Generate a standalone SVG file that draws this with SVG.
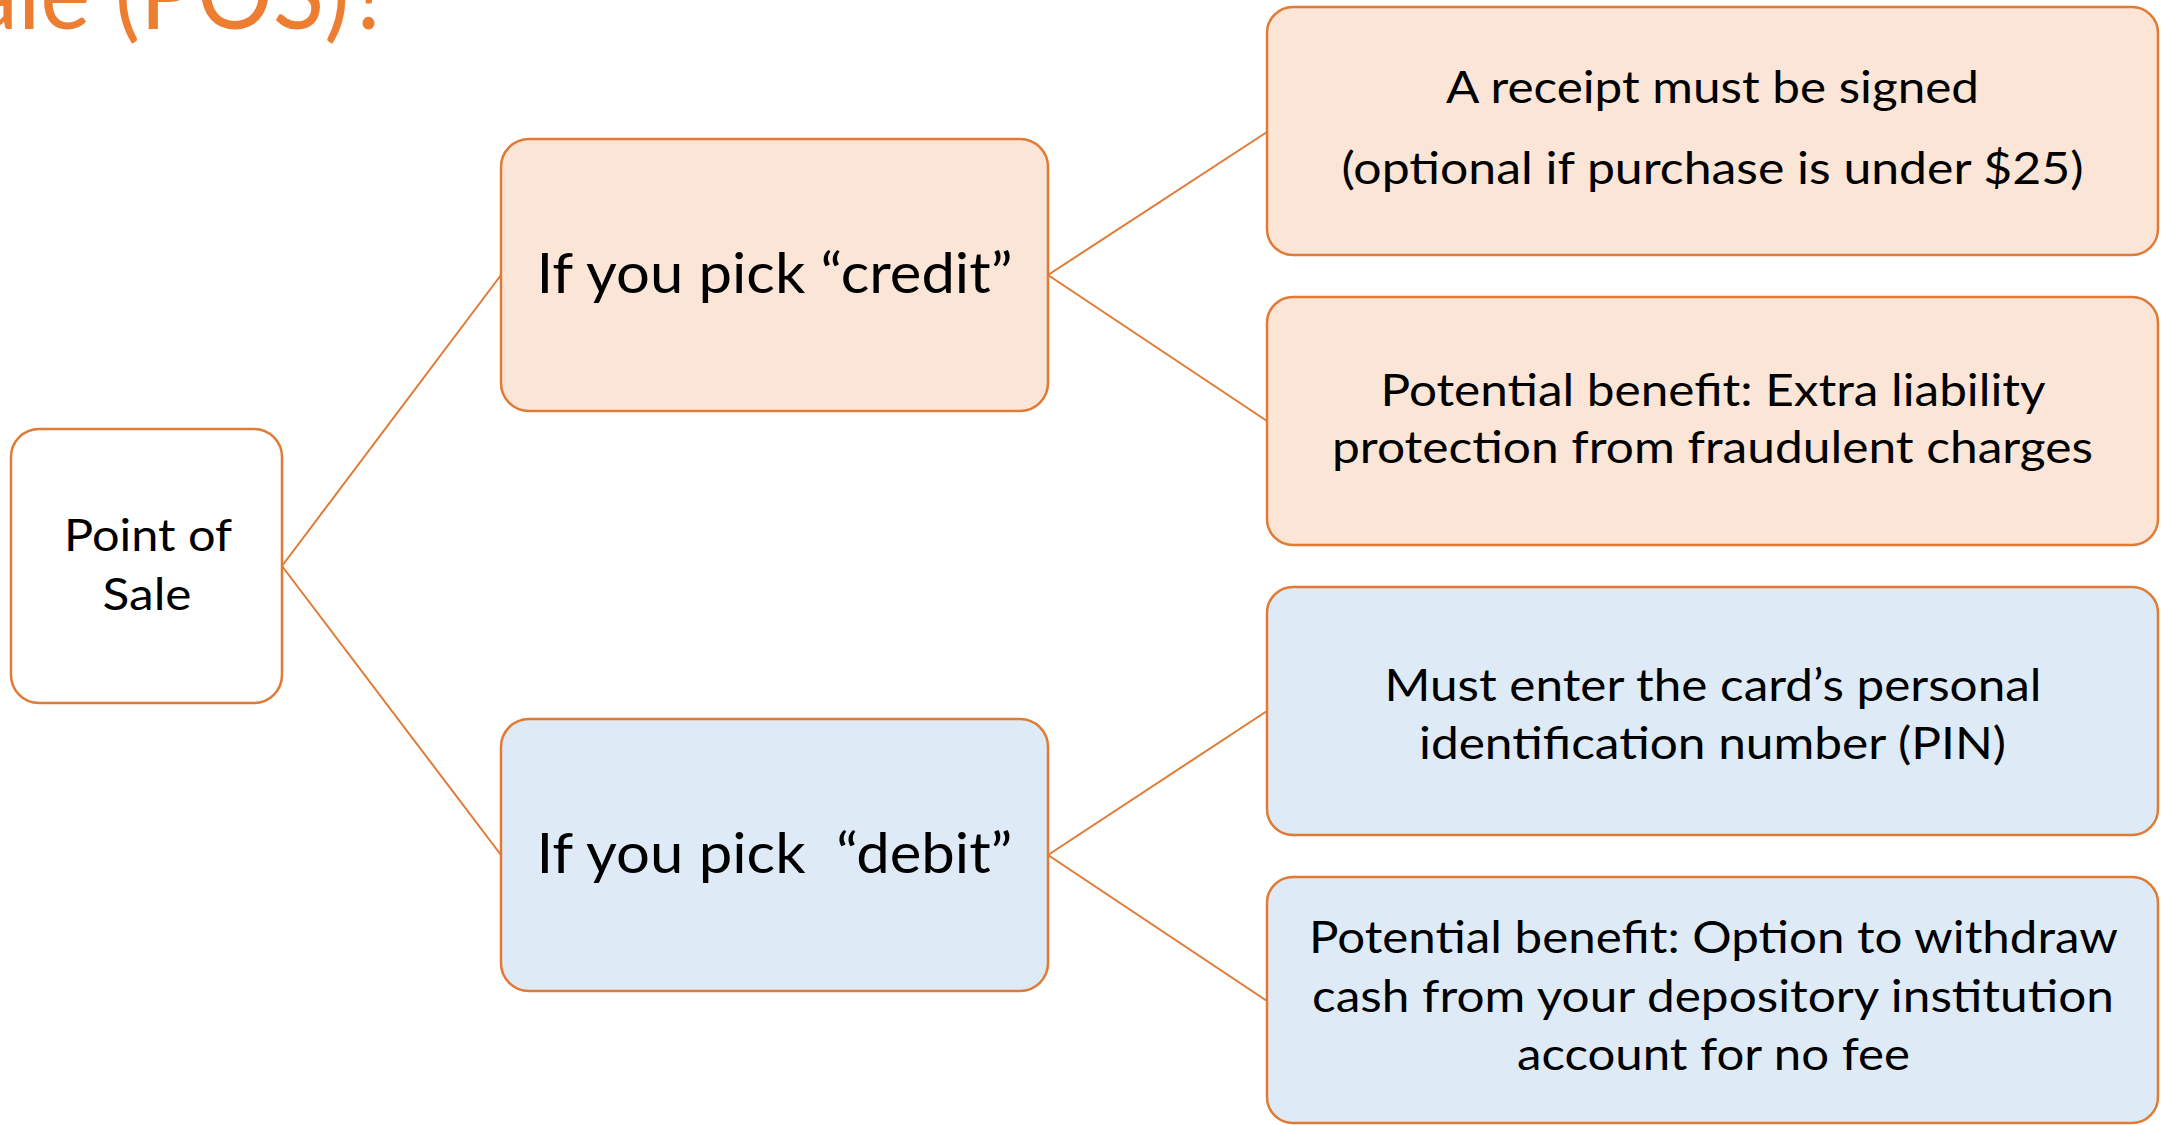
<svg xmlns="http://www.w3.org/2000/svg" width="2165" height="1125" viewBox="0 0 2165 1125">
  <style>
    .box { stroke: #E07A34; stroke-width: 2.5; }
    .white { fill: #FFFFFF; }
    .orange { fill: #FBE5D6; }
    .blue { fill: #DEEBF7; }
    .conn { stroke: #E07A34; stroke-width: 2; fill: none; }
    .t { font-family: Lato, "Open Sans", "Liberation Sans", sans-serif; fill: #000000; text-anchor: middle; }
    .s { font-size: 45px; }
    .m { font-size: 57px; }
    .title { font-family: Lato, "Open Sans", "Liberation Sans", sans-serif; font-weight: 400; font-size: 100px; fill: #ED7D31; }
  </style>
  <rect width="2165" height="1125" fill="#FFFFFF"/>
  <text class="title" x="-80" y="29" textLength="472" lengthAdjust="spacingAndGlyphs">Sale (POS)?</text>

  <g id="connectors">
    <line class="conn" x1="282" y1="566" x2="501" y2="275"/>
    <line class="conn" x1="282" y1="566" x2="501" y2="855"/>
    <line class="conn" x1="1048" y1="275" x2="1267" y2="132"/>
    <line class="conn" x1="1048" y1="275" x2="1267" y2="421"/>
    <line class="conn" x1="1048" y1="855" x2="1267" y2="711"/>
    <line class="conn" x1="1048" y1="855" x2="1267" y2="1001"/>
  </g>

  <g id="pos">
    <rect class="box white" x="11" y="429" width="271" height="274" rx="28"/>
    <text class="t s" x="148" y="551" textLength="168" lengthAdjust="spacingAndGlyphs">Point of</text>
    <text class="t s" x="147" y="610" textLength="89" lengthAdjust="spacingAndGlyphs">Sale</text>
  </g>

  <g id="credit">
    <rect class="box orange" x="501" y="139" width="547" height="272" rx="28"/>
    <text class="t m" x="774.5" y="293" textLength="476" lengthAdjust="spacingAndGlyphs">If you pick “credit”</text>
  </g>

  <g id="debit">
    <rect class="box blue" x="501" y="719" width="547" height="272" rx="28"/>
    <text class="t m" x="774.5" y="873" textLength="476" lengthAdjust="spacingAndGlyphs">If you pick&#160; “debit”</text>
  </g>

  <g id="receipt">
    <rect class="box orange" x="1267" y="7" width="891" height="248" rx="26"/>
    <text class="t s" x="1712.5" y="103" textLength="533" lengthAdjust="spacingAndGlyphs">A receipt must be signed</text>
    <text class="t s" x="1712.5" y="184" textLength="742" lengthAdjust="spacingAndGlyphs">(optional if purchase is under $25)</text>
  </g>

  <g id="credit-benefit">
    <rect class="box orange" x="1267" y="297" width="891" height="248" rx="26"/>
    <text class="t s" x="1713" y="406" textLength="665" lengthAdjust="spacingAndGlyphs">Potential benefit: Extra liability</text>
    <text class="t s" x="1712.5" y="463" textLength="761" lengthAdjust="spacingAndGlyphs">protection from fraudulent charges</text>
  </g>

  <g id="pin">
    <rect class="box blue" x="1267" y="587" width="891" height="248" rx="26"/>
    <text class="t s" x="1713" y="701" textLength="657" lengthAdjust="spacingAndGlyphs">Must enter the card’s personal</text>
    <text class="t s" x="1712.5" y="759" textLength="587" lengthAdjust="spacingAndGlyphs">identification number (PIN)</text>
  </g>

  <g id="debit-benefit">
    <rect class="box blue" x="1267" y="877" width="891" height="246" rx="26"/>
    <text class="t s" x="1713.5" y="953" textLength="809" lengthAdjust="spacingAndGlyphs">Potential benefit: Option to withdraw</text>
    <text class="t s" x="1713" y="1012" textLength="802" lengthAdjust="spacingAndGlyphs">cash from your depository institution</text>
    <text class="t s" x="1713.5" y="1070" textLength="393" lengthAdjust="spacingAndGlyphs">account for no fee</text>
  </g>
</svg>
